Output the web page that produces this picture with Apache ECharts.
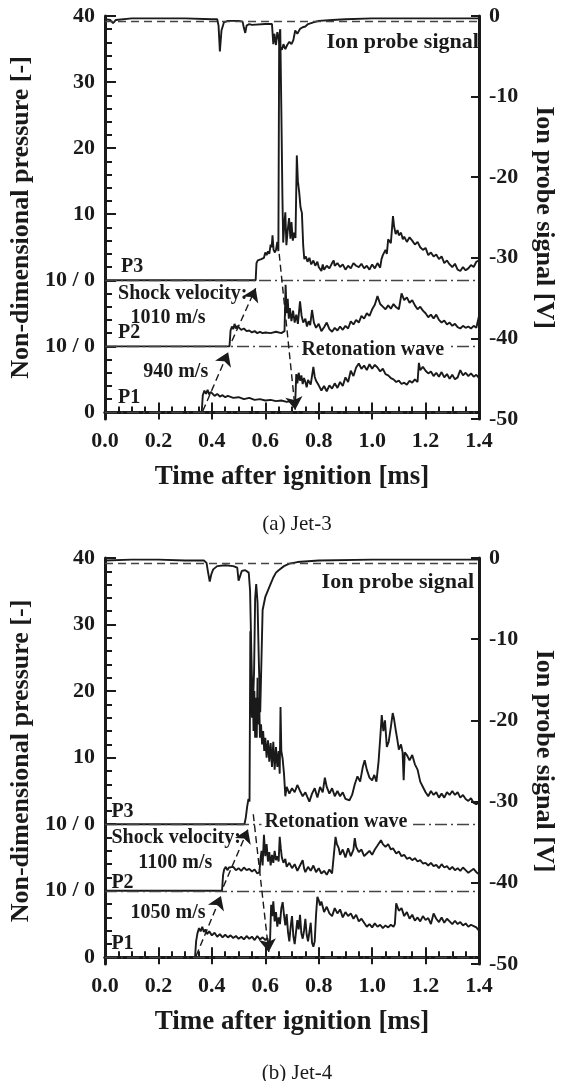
<!DOCTYPE html>
<html><head><meta charset="utf-8">
<script src="https://cdn.jsdelivr.net/npm/echarts@6/dist/echarts.min.js"></script>
<style>html,body{margin:0;padding:0;background:#fff}#c{width:565px;height:1081px}</style>
</head><body><div id="c"></div>
<script>
// ---------- DATA (time [ms], non-dimensional pressure / ion signal [V]) ----------
const xTicks = [0, 0.2, 0.4, 0.6, 0.8, 1.0, 1.2, 1.4];
const leftTickLabels = ['0', '10 / 0', '10 / 0', '10', '20', '30', '40'];
const rightTicks = [0, -10, -20, -30, -40, -50];

// Jet-3
const p1a = [[0,0],[0.362,0],[0.366,2.6],[0.372,3.3],[0.378,2.8],[0.384,3.4],[0.39,2.7],[0.396,3.1],[0.40,2.9],[0.41,2.5],[0.42,2.8],[0.43,2.4],[0.44,2.6],[0.45,2.3],[0.46,2.5],[0.48,2.2],[0.50,2.3],[0.52,2.0],[0.54,2.2],[0.56,1.9],[0.58,2.0],[0.60,1.8],[0.62,1.9],[0.64,1.7],[0.66,1.8],[0.68,1.6],[0.70,1.7],[0.712,1.5],[0.716,5.8],[0.72,4.4],[0.725,6.0],[0.73,4.8],[0.735,5.6],[0.74,4.3],[0.745,5.2],[0.75,4.6],[0.755,3.8],[0.76,4.9],[0.77,4.2],[0.78,6.9],[0.785,5.4],[0.79,4.8],[0.80,4.1],[0.81,3.3],[0.82,4.0],[0.83,3.2],[0.84,4.1],[0.85,3.6],[0.86,4.4],[0.87,3.7],[0.88,4.6],[0.89,4.0],[0.90,5.3],[0.91,4.6],[0.92,6.3],[0.93,5.5],[0.94,6.8],[0.95,7.4],[0.96,6.6],[0.97,7.1],[0.98,6.4],[0.99,7.3],[1.00,6.6],[1.01,7.2],[1.02,6.8],[1.03,6.2],[1.04,6.6],[1.05,5.8],[1.06,5.6],[1.07,5.2],[1.08,5.0],[1.09,4.6],[1.10,4.8],[1.11,4.3],[1.12,4.5],[1.13,4.2],[1.14,4.8],[1.15,4.5],[1.16,5.0],[1.17,4.6],[1.175,7.5],[1.18,6.4],[1.19,6.9],[1.20,6.3],[1.21,5.9],[1.22,6.2],[1.23,5.5],[1.24,6.0],[1.25,5.4],[1.26,6.1],[1.27,5.3],[1.28,5.8],[1.29,5.1],[1.30,5.7],[1.31,5.0],[1.32,5.3],[1.33,6.4],[1.34,5.6],[1.35,6.0],[1.36,5.5],[1.37,5.9],[1.38,5.4],[1.39,5.7],[1.40,5.2]];
const p2a = [[0,0],[0.466,0],[0.47,2.4],[0.475,3.0],[0.48,2.6],[0.485,3.4],[0.49,2.7],[0.495,3.1],[0.5,2.8],[0.51,2.5],[0.52,2.7],[0.53,2.3],[0.54,2.4],[0.55,2.1],[0.56,2.3],[0.57,2.0],[0.58,2.2],[0.59,2.0],[0.6,2.1],[0.62,2.0],[0.64,2.2],[0.66,2.0],[0.672,2.3],[0.676,9.3],[0.68,5.0],[0.684,7.2],[0.688,4.2],[0.692,5.8],[0.698,3.8],[0.704,5.4],[0.71,3.6],[0.716,4.8],[0.722,3.4],[0.73,6.8],[0.736,4.6],[0.742,3.6],[0.75,4.2],[0.756,3.0],[0.762,3.8],[0.768,3.2],[0.775,5.5],[0.782,3.6],[0.79,2.8],[0.8,3.4],[0.81,2.3],[0.82,2.9],[0.83,3.6],[0.84,2.6],[0.85,2.2],[0.86,2.8],[0.87,2.4],[0.88,3.0],[0.89,2.5],[0.9,3.1],[0.91,2.7],[0.92,3.8],[0.93,3.3],[0.94,4.0],[0.95,3.6],[0.96,4.6],[0.97,4.2],[0.98,5.0],[0.99,4.6],[1.0,5.6],[1.01,6.3],[1.02,7.6],[1.03,6.4],[1.04,6.0],[1.05,5.6],[1.06,6.2],[1.07,5.7],[1.08,6.4],[1.09,5.9],[1.1,5.6],[1.11,8.0],[1.12,7.0],[1.13,7.4],[1.14,6.6],[1.15,7.0],[1.16,6.2],[1.17,5.6],[1.18,6.0],[1.19,5.4],[1.2,5.0],[1.21,4.4],[1.22,4.8],[1.23,4.2],[1.24,4.8],[1.25,4.0],[1.26,3.6],[1.27,3.9],[1.28,3.3],[1.29,3.6],[1.3,3.1],[1.31,3.4],[1.32,2.9],[1.33,2.7],[1.34,3.1],[1.35,2.8],[1.36,3.0],[1.37,2.7],[1.38,3.1],[1.39,2.8],[1.395,2.9],[1.4,4.6]];
const p3a = [[0,0],[0.564,0],[0.567,2.6],[0.572,3.0],[0.578,2.8],[0.585,3.2],[0.59,3.0],[0.595,3.4],[0.6,4.2],[0.605,3.8],[0.61,4.4],[0.615,4.0],[0.62,5.4],[0.624,5.0],[0.627,6.8],[0.631,4.6],[0.636,4.2],[0.64,4.6],[0.645,5.8],[0.649,4.4],[0.652,37],[0.656,38],[0.66,26],[0.664,13],[0.667,5.7],[0.671,8.4],[0.675,10.3],[0.679,5.3],[0.684,7.6],[0.689,9.4],[0.694,6.3],[0.698,8.8],[0.703,6.0],[0.708,7.2],[0.713,6.4],[0.718,18.9],[0.722,15.0],[0.727,13.3],[0.732,11.0],[0.737,10.2],[0.742,5.2],[0.746,3.2],[0.752,3.6],[0.758,2.8],[0.765,3.4],[0.772,2.4],[0.78,3.0],[0.787,2.2],[0.795,2.8],[0.8,2.0],[0.81,1.4],[0.815,2.4],[0.82,1.6],[0.83,2.2],[0.84,1.8],[0.85,2.6],[0.856,3.0],[0.86,2.2],[0.87,2.6],[0.88,2.0],[0.89,2.4],[0.9,1.6],[0.91,2.2],[0.92,1.8],[0.93,2.6],[0.94,2.2],[0.95,2.0],[0.96,2.5],[0.97,1.8],[0.98,2.2],[0.99,1.6],[1.0,2.4],[1.01,1.8],[1.02,2.6],[1.03,1.9],[1.035,3.2],[1.04,3.8],[1.05,4.6],[1.055,4.0],[1.06,6.2],[1.07,5.6],[1.078,9.7],[1.082,8.2],[1.088,7.0],[1.095,7.6],[1.1,6.8],[1.108,7.2],[1.115,6.2],[1.12,6.6],[1.13,5.8],[1.14,6.5],[1.15,6.0],[1.16,5.4],[1.17,5.8],[1.18,5.0],[1.19,4.6],[1.2,4.9],[1.21,3.8],[1.22,4.2],[1.23,3.6],[1.24,3.9],[1.25,3.2],[1.26,3.6],[1.27,2.6],[1.28,3.0],[1.29,2.4],[1.3,2.0],[1.31,2.5],[1.32,1.6],[1.33,1.4],[1.34,2.0],[1.35,1.5],[1.36,1.8],[1.37,2.3],[1.38,2.0],[1.39,2.8],[1.4,3.0]];
const ionA = [[0,-0.4],[0.02,-0.5],[0.03,-0.9],[0.04,-0.5],[0.1,-0.3],[0.2,-0.3],[0.3,-0.3],[0.4,-0.4],[0.42,-0.4],[0.425,-1.2],[0.43,-4.4],[0.436,-1.8],[0.445,-0.8],[0.46,-0.6],[0.5,-0.6],[0.515,-0.7],[0.52,-1.5],[0.525,-2.1],[0.53,-1.2],[0.54,-1.0],[0.55,-1.1],[0.6,-1.0],[0.625,-1.0],[0.63,-3.5],[0.634,-2.2],[0.64,-3.6],[0.645,-2.0],[0.65,-2.8],[0.655,-3.8],[0.662,-4.2],[0.668,-3.5],[0.675,-4.1],[0.682,-3.6],[0.69,-3.2],[0.698,-3.5],[0.705,-3.0],[0.712,-1.8],[0.72,-2.2],[0.73,-1.6],[0.74,-1.4],[0.75,-1.3],[0.76,-1.0],[0.78,-0.8],[0.8,-0.6],[0.85,-0.5],[0.9,-0.4],[1.0,-0.3],[1.2,-0.3],[1.4,-0.3]];

// Jet-4
const p1b = [[0,0],[0.337,0],[0.341,2.4],[0.346,3.6],[0.352,4.4],[0.358,3.9],[0.364,4.6],[0.37,3.8],[0.376,4.2],[0.382,3.5],[0.39,3.9],[0.4,3.3],[0.41,3.7],[0.42,3.1],[0.43,3.5],[0.44,3.0],[0.45,3.4],[0.46,3.0],[0.47,3.3],[0.48,2.9],[0.49,3.2],[0.5,2.8],[0.51,3.1],[0.52,2.7],[0.53,3.2],[0.54,2.8],[0.55,3.1],[0.56,2.6],[0.57,3.2],[0.58,2.7],[0.59,3.0],[0.6,2.6],[0.608,2.9],[0.614,1.2],[0.618,2.8],[0.622,7.9],[0.626,6.2],[0.63,8.4],[0.635,5.4],[0.64,6.8],[0.645,4.6],[0.65,6.0],[0.655,5.0],[0.66,7.4],[0.665,8.3],[0.67,6.4],[0.675,4.8],[0.68,6.5],[0.685,3.8],[0.69,2.4],[0.695,4.6],[0.7,6.2],[0.705,3.2],[0.71,2.0],[0.715,3.8],[0.72,5.6],[0.725,4.2],[0.73,6.4],[0.735,3.6],[0.74,2.8],[0.745,4.0],[0.75,5.8],[0.755,3.4],[0.76,2.4],[0.765,3.8],[0.77,5.2],[0.775,2.2],[0.78,1.6],[0.785,2.4],[0.79,6.4],[0.795,9.1],[0.8,8.6],[0.805,7.8],[0.81,8.4],[0.82,6.8],[0.83,7.6],[0.84,6.6],[0.85,6.2],[0.86,7.4],[0.87,6.6],[0.88,7.2],[0.89,6.0],[0.9,6.8],[0.91,6.2],[0.92,6.6],[0.93,5.8],[0.94,6.4],[0.95,5.4],[0.96,5.8],[0.97,5.2],[0.98,4.6],[0.99,5.0],[1.0,4.5],[1.01,5.1],[1.02,4.6],[1.03,4.9],[1.04,4.4],[1.05,4.8],[1.06,4.5],[1.07,4.9],[1.08,4.6],[1.085,5.0],[1.09,8.1],[1.1,7.0],[1.11,7.4],[1.12,6.2],[1.13,6.8],[1.14,5.8],[1.15,6.4],[1.16,5.5],[1.17,6.0],[1.18,5.4],[1.19,6.2],[1.2,5.6],[1.21,5.9],[1.22,5.0],[1.23,6.6],[1.24,5.8],[1.25,5.3],[1.26,6.0],[1.27,5.2],[1.28,5.8],[1.29,5.4],[1.3,5.0],[1.31,5.5],[1.32,5.0],[1.33,5.3],[1.34,4.8],[1.35,5.1],[1.36,4.6],[1.37,4.9],[1.38,4.7],[1.39,4.5],[1.4,4.0]];
const p2b = [[0,0],[0.438,0],[0.442,2.4],[0.446,3.2],[0.452,3.6],[0.458,3.1],[0.464,3.5],[0.47,3.2],[0.48,3.6],[0.49,3.1],[0.5,3.4],[0.51,3.0],[0.52,3.5],[0.53,3.1],[0.54,3.3],[0.55,2.9],[0.56,3.2],[0.57,2.6],[0.578,2.8],[0.582,4.8],[0.586,6.0],[0.59,3.8],[0.595,8.4],[0.6,5.2],[0.605,7.0],[0.61,4.4],[0.615,5.8],[0.62,3.8],[0.625,5.4],[0.63,4.2],[0.635,6.0],[0.64,4.6],[0.645,5.2],[0.65,4.4],[0.654,8.1],[0.658,6.4],[0.662,5.0],[0.668,4.2],[0.675,4.8],[0.68,3.6],[0.69,4.2],[0.7,3.4],[0.71,4.0],[0.72,3.0],[0.73,3.8],[0.74,4.6],[0.745,3.4],[0.75,2.8],[0.76,3.6],[0.77,3.0],[0.78,3.8],[0.79,2.8],[0.8,3.4],[0.81,2.6],[0.82,3.0],[0.83,2.4],[0.84,3.2],[0.85,2.6],[0.857,2.8],[0.863,8.1],[0.868,7.0],[0.875,6.4],[0.88,5.4],[0.89,6.2],[0.9,5.0],[0.91,6.4],[0.92,5.2],[0.93,6.2],[0.935,7.9],[0.94,6.6],[0.95,5.8],[0.96,6.2],[0.97,5.2],[0.975,5.0],[0.98,5.6],[0.99,6.0],[1.0,5.4],[1.01,6.2],[1.02,6.8],[1.033,7.6],[1.04,7.0],[1.05,6.6],[1.06,7.0],[1.07,6.2],[1.078,6.4],[1.09,5.6],[1.1,5.9],[1.11,5.2],[1.12,5.4],[1.13,4.8],[1.14,5.0],[1.15,4.6],[1.16,4.9],[1.17,4.4],[1.18,4.6],[1.19,4.1],[1.2,4.2],[1.21,3.8],[1.22,4.2],[1.23,3.7],[1.24,3.9],[1.25,3.4],[1.26,4.0],[1.27,3.5],[1.28,3.7],[1.29,3.2],[1.3,3.6],[1.31,3.1],[1.32,3.4],[1.33,3.0],[1.34,3.5],[1.35,3.1],[1.36,2.7],[1.37,3.0],[1.38,3.3],[1.39,2.8],[1.4,2.5]];
const p3b = [[0,0],[0.522,0],[0.527,1.0],[0.532,2.6],[0.537,3.8],[0.541,3.4],[0.544,29],[0.547,22],[0.55,16],[0.553,21],[0.556,14],[0.559,20],[0.562,13],[0.565,19],[0.568,13],[0.571,22],[0.574,15],[0.577,19],[0.58,13],[0.584,15],[0.588,12],[0.592,14],[0.596,11],[0.6,13],[0.605,10],[0.61,12.6],[0.615,9.4],[0.62,12.2],[0.625,8.6],[0.63,12.4],[0.635,8.2],[0.64,11.6],[0.645,8.6],[0.65,11],[0.654,7.6],[0.657,17.6],[0.66,11],[0.665,9.8],[0.67,7.6],[0.675,4.2],[0.68,5.6],[0.69,4.6],[0.7,5.4],[0.71,4.8],[0.72,5.9],[0.73,5.0],[0.74,4.2],[0.75,4.8],[0.765,3.4],[0.775,4.6],[0.785,5.4],[0.795,4.0],[0.805,5.6],[0.815,4.8],[0.823,7.0],[0.83,5.6],[0.84,4.6],[0.85,5.4],[0.86,4.2],[0.87,5.0],[0.88,4.2],[0.89,4.8],[0.9,3.8],[0.915,3.6],[0.925,4.4],[0.935,6.0],[0.945,7.2],[0.955,6.4],[0.965,8.6],[0.972,9.6],[0.98,8.2],[0.99,7.0],[1.0,6.6],[1.008,7.4],[1.016,6.4],[1.024,9.4],[1.03,12.8],[1.036,16.4],[1.042,14.0],[1.048,15.6],[1.055,11.6],[1.062,12.4],[1.07,14.6],[1.077,16.7],[1.082,15.8],[1.088,14.2],[1.094,12.8],[1.1,11.2],[1.108,12.0],[1.114,10.8],[1.118,6.6],[1.122,10.8],[1.13,10.4],[1.14,9.6],[1.15,10.4],[1.16,9.0],[1.17,8.2],[1.18,6.4],[1.19,5.6],[1.2,4.8],[1.21,4.2],[1.22,5.0],[1.23,4.4],[1.24,4.8],[1.25,4.0],[1.26,4.6],[1.27,4.0],[1.28,4.8],[1.29,4.4],[1.3,5.0],[1.31,4.4],[1.32,4.8],[1.33,4.0],[1.34,4.4],[1.35,3.8],[1.36,3.5],[1.37,3.9],[1.38,3.2],[1.39,3.0],[1.4,3.3]];
const ionB = [[0,-0.3],[0.1,-0.2],[0.2,-0.2],[0.3,-0.3],[0.37,-0.3],[0.38,-0.6],[0.386,-1.8],[0.392,-2.9],[0.398,-2.0],[0.405,-1.4],[0.42,-1.0],[0.45,-0.9],[0.48,-1.0],[0.495,-1.2],[0.5,-2.8],[0.506,-2.2],[0.512,-1.6],[0.525,-1.5],[0.538,-1.8],[0.543,-4.0],[0.548,-12],[0.553,-19],[0.558,-14],[0.562,-5],[0.566,-3.2],[0.571,-5.5],[0.576,-13],[0.581,-19],[0.586,-12],[0.59,-6.4],[0.595,-5.6],[0.6,-4.8],[0.61,-4.0],[0.62,-3.2],[0.63,-2.4],[0.64,-1.8],[0.65,-1.5],[0.67,-1.0],[0.69,-0.7],[0.72,-0.5],[0.8,-0.3],[1.0,-0.2],[1.4,-0.2]];

// Annotation texts with anchor (time, stacked pressure level)
const notesA = [['P3',0.058,22.0],['Shock velocity:',0.047,18.0],['1010 m/s',0.094,14.3],['P2',0.047,12.1],['940 m/s',0.141,6.1],['P1',0.047,2.2],['Ion probe signal',0.827,56.0]];
const waveA = ['Retonation wave',0.722,9.4];
const notesB = [['P3',0.022,21.8],['Shock velocity:',0.022,17.9],['1100 m/s',0.123,14.2],['P2',0.022,11.2],['1050 m/s',0.094,6.7],['P1',0.022,2.1],['Ion probe signal',0.809,56.4]];
const waveB = ['Retonation wave',0.584,20.3];
// arrows: [from, to]
const arrowsA = [[[0.366,0.2],[0.461,9.1]],[[0.475,10.8],[0.564,18.8]],[[0.652,24],[0.712,0.4]]];
const arrowsB = [[[0.341,0.2],[0.434,9.2]],[[0.443,10.6],[0.535,19.2]],[[0.555,21.5],[0.613,0.8]]];

// ---------- CHART ----------
const F = '"Liberation Serif","Times New Roman",serif';
const INK = '#1a1a1a';
const chart = echarts.init(document.getElementById('c'), null, {renderer:'canvas'});

const majorLeft = [0,10,20,30,40,50,60];
const minorLeft = [];
for (let v = 2; v < 60; v += 2) if (v % 10) minorLeft.push(v);

const grids = [{left:99, right:79, top:16, height:403}, {left:99, right:80, top:558, height:406}];
const xAxes = [], yAxes = [], series = [];

function build(g, p1, p2, p3, ion, notes, wave, arrows) {
  const xb = xAxes.length, yb = yAxes.length;
  xAxes.push({gridIndex:g, type:'value', min:0, max:1.4, interval:0.2, position:'bottom',
    axisLine:{lineStyle:{color:INK, width:3}},
    axisTick:{inside:true, length:10, lineStyle:{color:INK, width:2}},
    minorTick:{show:true, splitNumber:4, length:6, lineStyle:{color:INK, width:2}},
    splitLine:{show:false},
    axisLabel:{fontFamily:F, fontWeight:'bold', fontSize:22, color:INK, margin:11, formatter:v=>v.toFixed(1)},
    name:'Time after ignition [ms]', nameLocation:'middle', nameGap:45,
    nameTextStyle:{fontFamily:F, fontWeight:'bold', fontSize:27, color:INK}});
  xAxes.push({gridIndex:g, type:'value', min:0, max:1.4, interval:0.2, position:'top',
    axisLine:{lineStyle:{color:INK, width:3}},
    axisTick:{inside:true, length:7, lineStyle:{color:INK, width:2}},
    axisLabel:{show:false}, splitLine:{show:false}});
  yAxes.push({gridIndex:g, type:'value', min:-1, max:60, position:'left',
    axisLine:{show:true, lineStyle:{color:INK, width:3}},
    axisTick:{show:true, inside:true, length:11, customValues:majorLeft, lineStyle:{color:INK, width:2}},
    axisLabel:{customValues:majorLeft, formatter:v=>leftTickLabels[Math.round(v/10)], fontFamily:F, fontWeight:'bold', fontSize:22, color:INK, margin:10},
    splitLine:{show:false},
    name:'Non-dimensional pressure [-]', nameLocation:'middle', nameGap:66,
    nameTextStyle:{fontFamily:F, fontWeight:'bold', fontSize:26, color:INK}});
  yAxes.push({gridIndex:g, type:'value', min:-1, max:60, position:'left', offset:0,
    axisLine:{show:false},
    axisTick:{show:true, inside:true, length:7, customValues:minorLeft, lineStyle:{color:INK, width:2}},
    axisLabel:{show:false}, splitLine:{show:false}});
  yAxes.push({gridIndex:g, type:'value', min:-50, max:0, interval:10, position:'right',
    axisLine:{show:true, lineStyle:{color:INK, width:3}},
    axisTick:{inside:true, length:8, lineStyle:{color:INK, width:2}},
    axisLabel:{fontFamily:F, fontWeight:'bold', fontSize:22, color:INK, margin:10},
    splitLine:{show:false},
    name:'Ion probe signal [V]', nameLocation:'middle', nameRotate:-90, nameGap:52,
    nameTextStyle:{fontFamily:F, fontWeight:'bold', fontSize:26, color:INK}});

  const mk = (d, off, yi, z) => ({type:'line', xAxisIndex:xb, yAxisIndex:yi, z:z||3,
    data:d.map(p=>[p[0], p[1]+off]), showSymbol:false, symbol:'none', animation:false,
    lineStyle:{color:INK, width:1.9}});

  // baselines (dash-dot) and ion reference (dashed)
  const base = mk([], 0, yb, 2);
  base.markLine = {silent:true, symbol:['none','none'], animation:false, label:{show:false},
    lineStyle:{color:'#444', width:1.3, type:[12,4,2,4]},
    data:[{yAxis:0},{yAxis:10},{yAxis:20}]};
  series.push(base);
  const ionRef = mk([], 0, yb+2, 2);
  ionRef.markLine = {silent:true, symbol:['none','none'], animation:false, label:{show:false},
    lineStyle:{color:'#444', width:1.3, type:[8,5]}, data:[{yAxis:-0.6}]};
  series.push(ionRef);

  series.push(mk(p1, 0, yb));
  series.push(mk(p2, 10, yb));
  series.push(mk(p3, 20, yb));
  series.push(mk(ion, 0, yb+2));

  // arrows
  const arr = mk([], 0, yb, 4);
  arr.markLine = {silent:true, symbol:['none','arrow'], symbolSize:13, animation:false,
    label:{show:false}, itemStyle:{color:INK}, lineStyle:{color:INK, width:1.4, type:[7,4]},
    data:arrows.map(a=>[{coord:a[0]},{coord:a[1]}])};
  series.push(arr);

  // text annotations
  const lab = (t, big, bg) => ({show:true, position:'right', distance:0, formatter:t,
    fontFamily:F, fontWeight:'bold', fontSize:big?22:20, color:INK,
    backgroundColor:bg?'#fff':'transparent', padding:bg?[1,3]:0});
  const ann = mk([], 0, yb, 10);
  ann.markPoint = {silent:true, animation:false, symbol:'rect', symbolSize:1,
    itemStyle:{color:'rgba(0,0,0,0)'},
    data: notes.map(n=>({coord:[n[1], n[2]], label:lab(n[0], n[0]==='Ion probe signal', false)}))
      .concat([{coord:[wave[1], wave[2]], label:lab(wave[0], false, true)}])};
  series.push(ann);
}

build(0, p1a, p2a, p3a, ionA, notesA, waveA, arrowsA);
build(1, p1b, p2b, p3b, ionB, notesB, waveB, arrowsB);

chart.setOption({
  animation:false,
  backgroundColor:'#fff',
  title:[
    {text:'(a) Jet-3', left:292, top:509, textAlign:'center', textStyle:{fontFamily:F, fontWeight:'normal', fontSize:21, color:INK}},
    {text:'(b) Jet-4', left:292, top:1058, textAlign:'center', textStyle:{fontFamily:F, fontWeight:'normal', fontSize:21, color:INK}}
  ],
  grid:grids, xAxis:xAxes, yAxis:yAxes, series:series
});
</script></body></html>
